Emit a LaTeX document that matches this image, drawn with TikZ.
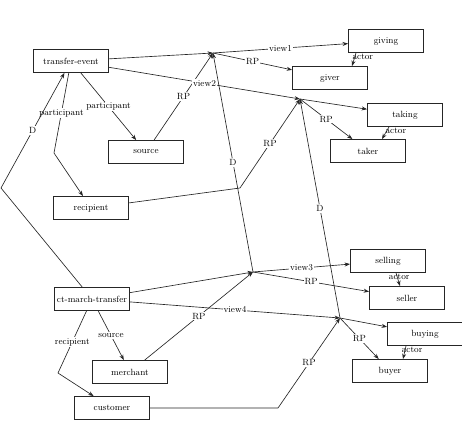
\documentclass[tikz,border=0pt]{standalone}
\usepackage{tikz}
\usetikzlibrary{arrows.meta}
\tikzset{
  box/.style={draw=black!85, line width=0.8pt, fill=white, align=center, font=\small, minimum width=75pt, minimum height=23pt, inner sep=2pt},
  arrow/.style={-{Stealth[length=5.5pt, width=4pt]}, line width=0.65pt, draw=black!85},
  plain/.style={line width=0.65pt, draw=black!85},
  lbl/.style={font=\small, fill=white, inner sep=1pt},
  actorlbl/.style={font=\small, inner sep=0pt},
}

\begin{document}
\begin{tikzpicture}[x=1pt, y=-1pt]
  \useasboundingbox (0,0) rectangle (462,430);
  % event frames (left)
  \node[box] (tev) at (71,61) {transfer-event};
  \node[box] (src) at (146,152) {source};
  \node[box] (rcp) at (91,208) {recipient};
  \node[box] (cmt) at (92,299) {ct-march-transfer};
  \node[box] (mer) at (130,372) {merchant};
  \node[box] (cus) at (112,408) {customer};
  % views (right)
  \node[box] (giving) at (386,41) {giving};
  \node[box] (giver) at (330,78) {giver};
  \node[box] (taking) at (405,115) {taking};
  \node[box] (taker) at (368,151) {taker};
  \node[box] (selling) at (388,261) {selling};
  \node[box] (seller) at (407,298) {seller};
  \node[box] (buying) at (425,334) {buying};
  \node[box] (buyer) at (390,371) {buyer};

  % junctions and bends
  \coordinate (j1) at (213,53);
  \coordinate (j2) at (300,99);
  \coordinate (j3) at (253,272);
  \coordinate (j4) at (340,318);
  \coordinate (bd) at (1,188);
  \coordinate (bp) at (54,153);
  \coordinate (br) at (58,373);
  \coordinate (bc) at (278,408);
  \coordinate (bq) at (240,188);

  % transfer-event roles
  \draw[arrow] (tev) -- (src) node[lbl, midway] {participant};
  \draw[arrow] (tev) -- (bp) node[lbl, midway] {participant} -- (rcp);
  \draw[arrow] (cmt) -- (bd) -- (tev) node[lbl, midway] {D};

  % views of transfer-event
  \draw[arrow] (tev) -- (j1);
  \draw[arrow] (j1) -- (giving) node[lbl, midway] {view1};
  \draw[arrow] (j1) -- (giver) node[lbl, midway] {RP};
  \draw[arrow] (src) -- (j1) node[lbl, midway] {RP};
  \draw[arrow] (tev) -- (j2) node[lbl, midway] {view2};
  \draw[arrow] (j2) -- (taking);
  \draw[arrow] (j2) -- (taker) node[lbl, midway] {RP};
  \draw[arrow] (rcp) -- (bq) -- (j2) node[lbl, midway] {RP};

  % ct-march-transfer roles
  \draw[arrow] (cmt) -- (mer) node[lbl, midway] {source};
  \draw[arrow] (cmt) -- (br) node[lbl, midway] {recipient} -- (cus);

  % views of ct-march-transfer
  \draw[arrow] (cmt) -- (j3);
  \draw[arrow] (j3) -- (selling) node[lbl, midway] {view3};
  \draw[arrow] (j3) -- (seller) node[lbl, midway] {RP};
  \draw[arrow] (mer) -- (j3) node[lbl, midway] {RP};
  \draw[arrow] (cmt) -- (j4) node[lbl, midway] {view4};
  \draw[arrow] (j4) -- (buying);
  \draw[arrow] (j4) -- (buyer) node[lbl, midway] {RP};
  \draw[arrow] (cus) -- (bc) -- (j4) node[lbl, midway] {RP};

  % D links between views
  \draw[arrow] (j3) -- (j1) node[lbl, midway] {D};
  \draw[arrow] (j4) -- (j2) node[lbl, midway] {D};

  % actor links
  \draw[arrow] ([xshift=-30pt]giving.south) -- ([xshift=22pt]giver.north)
    node[actorlbl, pos=0.3, xshift=8pt] {actor};
  \draw[arrow] ([xshift=-16pt]taking.south) -- ([xshift=14pt]taker.north)
    node[actorlbl, pos=0.3, xshift=9pt] {actor};
  \draw[arrow] ([xshift=8pt]selling.south) -- ([xshift=-7pt]seller.north)
    node[actorlbl, pos=0.3, xshift=2pt] {actor};
  \draw[arrow] ([xshift=-19pt]buying.south) -- ([xshift=13pt]buyer.north)
    node[actorlbl, pos=0.3, xshift=7pt] {actor};
\end{tikzpicture}
\end{document}
